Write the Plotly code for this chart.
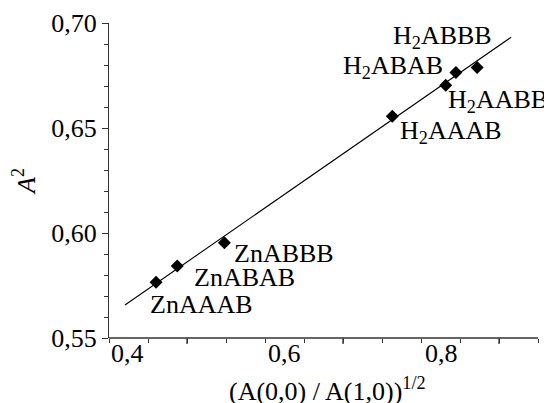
import plotly.graph_objects as go

# Data
labels = ["ZnAAAB", "ZnABAB", "ZnABBB",
          "H<sub>2</sub>AAAB", "H<sub>2</sub>AABB", "H<sub>2</sub>ABAB", "H<sub>2</sub>ABBB"]
x_vals = [0.436, 0.463, 0.523, 0.737, 0.805, 0.818, 0.845]
y_vals = [0.5765, 0.5843, 0.5953, 0.6556, 0.6704, 0.6764, 0.6788]
fit_x = [0.3964, 0.8882]
fit_y = [0.5657, 0.6932]
x_tick_vals = [0.4, 0.6, 0.8]
x_tick_text = ["0,4", "0,6", "0,8"]
y_tick_vals = [0.55, 0.60, 0.65, 0.70]
y_tick_text = ["0,55", "0,60", "0,65", "0,70"]

# layout / styling (page body has an 8px default margin)
FONT = "'Liberation Serif', 'Times New Roman', Times, serif"
FS = 26
x_range = [0.37605, 0.92255]
y_range = [0.55, 0.70]
n_int = 11
x_step = (x_range[1] - x_range[0]) / n_int
long_ticks = [x_range[0] + k * x_step for k in (2, 6, 10)]
PLOT_H = 315
axis_color = "#333333"

# label offsets (pixels) relative to their point
label_pos = [
    dict(xanchor="left", xshift=-8, yshift=-22),
    dict(xanchor="left", xshift=15, yshift=-12),
    dict(xanchor="left", xshift=8, yshift=-11),
    dict(xanchor="left", xshift=6, yshift=-16),
    dict(xanchor="left", xshift=0, yshift=-16),
    dict(xanchor="right", xshift=-11, yshift=6),
    dict(xanchor="center", xshift=-35, yshift=31),
]

fig = go.Figure()
fig.add_trace(go.Scatter(x=fit_x, y=fit_y, mode="lines",
                         line=dict(color="black", width=1.1), showlegend=False,
                         hoverinfo="skip"))
fig.add_trace(go.Scatter(x=x_vals, y=y_vals, mode="markers",
                         marker=dict(symbol="diamond", size=10, color="black"),
                         showlegend=False))

for lab, xv, yv, p in zip(labels, x_vals, y_vals, label_pos):
    fig.add_annotation(x=xv, y=yv, xref="x", yref="y", text=lab, showarrow=False,
                       yanchor="middle", font=dict(family=FONT, size=FS, color="black"),
                       **p)

# x tick labels
for tv, tt in zip(x_tick_vals, x_tick_text):
    fig.add_annotation(x=tv, y=0, xref="x", yref="paper", text=tt, showarrow=False,
                       xanchor="center", yanchor="top", yshift=1,
                       font=dict(family=FONT, size=FS, color="black"))

# x axis title
fig.add_annotation(x=0.5, y=0, xref="paper", yref="paper",
                   text="(A(0,0) / A(1,0))<sup>1/2</sup>", showarrow=False,
                   xanchor="center", yanchor="bottom", yshift=-70, xshift=4,
                   font=dict(family=FONT, size=FS, color="black"))

# x axis line and longer x ticks
fig.add_shape(type="line", xref="paper", yref="paper", x0=0, x1=1, y0=0, y1=0,
              line=dict(color=axis_color, width=1.3))
for t in long_ticks:
    fig.add_shape(type="line", xref="x", yref="paper", x0=t, x1=t,
                  y0=0, y1=-6 / PLOT_H,
                  line=dict(color=axis_color, width=1.3))

fig.update_layout(
    width=544, height=395,
    margin=dict(l=101, r=14, t=15, b=65),
    paper_bgcolor="white", plot_bgcolor="white",
    font=dict(family=FONT, size=FS, color="black"),
    xaxis=dict(
        range=x_range, showgrid=False, zeroline=False, automargin=False,
        showline=False,
        tickmode="linear", tick0=x_range[0], dtick=x_step,
        ticks="outside", ticklen=3.5, tickcolor=axis_color, tickwidth=1.3,
        showticklabels=False,
    ),
    yaxis=dict(
        range=y_range, showgrid=False, zeroline=False, automargin=False,
        showline=True, linecolor=axis_color, linewidth=1.3,
        tickmode="array", tickvals=y_tick_vals, ticktext=y_tick_text,
        ticks="outside", ticklen=6, tickcolor=axis_color, tickwidth=1.3,
        tickfont=dict(family=FONT, size=FS, color="black"),
        minor=dict(tickmode="linear", tick0=0.55, dtick=0.01,
                   ticks="outside", ticklen=3.5, tickcolor=axis_color, tickwidth=1.3,
                   showgrid=False),
        title=dict(text="<i>A</i><sup>2</sup>",
                   font=dict(family=FONT, size=FS, color="black"), standoff=16),
    ),
)

fig.write_html("out.html")
